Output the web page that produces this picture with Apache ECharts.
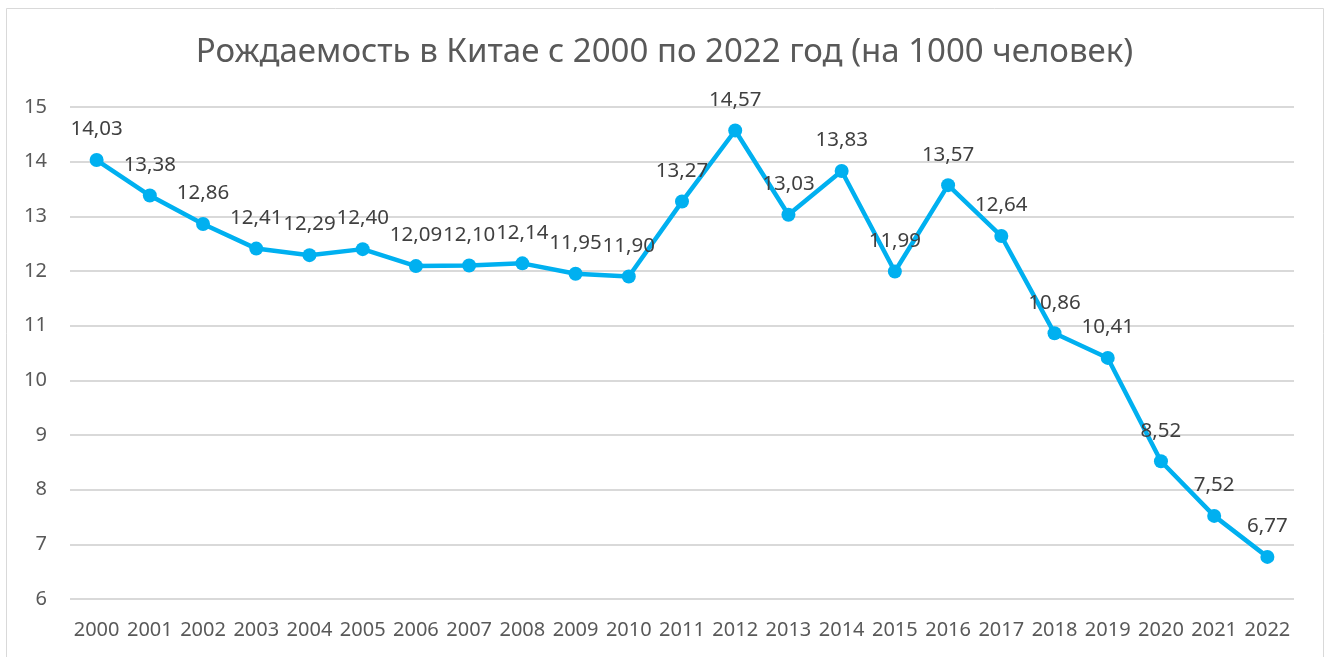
<!DOCTYPE html>
<html>
<head>
<meta charset="utf-8">
<script src="https://cdn.jsdelivr.net/npm/echarts@6/dist/echarts.min.js"></script>
<style>
  html, body { margin: 0; padding: 0; background: #fff; }
  #main { width: 1329px; height: 657px; }
</style>
</head>
<body>
<div id="main"></div>
<script>
// годы и рождаемость на 1000 человек
const years = ['2000','2001','2002','2003','2004','2005','2006','2007','2008','2009','2010','2011',
  '2012','2013','2014','2015','2016','2017','2018','2019','2020','2021','2022'];
const birthRate = [14.03, 13.38, 12.86, 12.41, 12.29, 12.40, 12.09, 12.10, 12.14, 11.95, 11.90, 13.27,
  14.57, 13.03, 13.83, 11.99, 13.57, 12.64, 10.86, 10.41, 8.52, 7.52, 6.77];
const yTicks = [6, 15, 1]; // min, max, interval

const textColor = '#595959';
const font = 'Noto Sans';

let chart = echarts.init(document.getElementById('main'));

let option = {
  animation: false,
  backgroundColor: '#fff',
  title: {
    text: 'Рождаемость в Китае с 2000 по 2022 год (на 1000 человек)',
    left: 'center',
    top: 31,
    textStyle: { color: textColor, fontFamily: font, fontSize: 33, fontWeight: 'normal' }
  },
  graphic: [{
    type: 'rect',
    shape: { x: 6.5, y: 8.5, width: 1317, height: 660 },
    style: { fill: 'none', stroke: '#d9d9d9', lineWidth: 1 },
    silent: true
  }],
  grid: { left: 70, right: 35, top: 107, bottom: 58 },
  xAxis: {
    type: 'category',
    data: years,
    boundaryGap: true,
    axisLine: { show: false },
    axisTick: { show: false },
    axisLabel: { color: textColor, fontFamily: font, fontSize: 20, margin: 21, interval: 0 }
  },
  yAxis: {
    type: 'value',
    min: yTicks[0],
    max: yTicks[1],
    interval: yTicks[2],
    axisLine: { show: false },
    axisTick: { show: false },
    axisLabel: { color: textColor, fontFamily: font, fontSize: 20, margin: 23 },
    splitLine: { lineStyle: { color: '#d9d9d9', width: 2 } }
  },
  series: [{
    type: 'line',
    data: birthRate,
    symbol: 'circle',
    symbolSize: 14,
    lineStyle: { color: '#00b0f0', width: 4.5 },
    itemStyle: { color: '#00b0f0' },
    label: {
      show: true,
      position: 'top',
      distance: 13,
      color: '#404040',
      fontFamily: font,
      fontSize: 20.5,
      formatter: p => p.value.toFixed(2).replace('.', ',')
    }
  }]
};

chart.setOption(option);
</script>
</body>
</html>
